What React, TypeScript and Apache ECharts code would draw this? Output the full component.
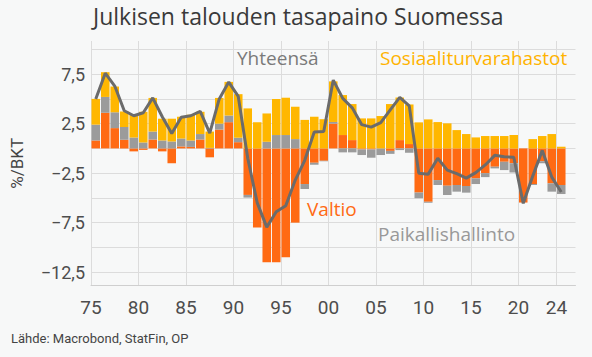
import React, { useEffect, useRef } from "react";
import * as echarts from "echarts";

const years: string[] = [
  "1975","1976","1977","1978","1979","1980","1981","1982","1983","1984",
  "1985","1986","1987","1988","1989","1990","1991","1992","1993","1994",
  "1995","1996","1997","1998","1999","2000","2001","2002","2003","2004",
  "2005","2006","2007","2008","2009","2010","2011","2012","2013","2014",
  "2015","2016","2017","2018","2019","2020","2021","2022","2023","2024","2025",
];

// Valtio (central government), % of GDP
const valtio = [
  0.8, 3.6, 2.05, 0.87, -0.3, -0.15, 0.9, -0.3, -1.5, 0.2,
  0.15, 0.9, -0.9, 1.9, 2.65, 0.63, -4.7, -7.98, -11.5, -11.5,
  -11.0, -7.5, -3.6, -1.45, -1.25, 2.5, 1.35, 0.84, -0.1, -0.1,
  0.0, -0.25, 0.84, 0.44, -4.46, -5.39, -3.2, -3.77, -3.7, -3.8,
  -3.03, -2.5, -1.85, -1.35, -1.5, -5.47, -3.6, -1.3, -3.53, -3.7,
];

// Paikallishallinto (local government)
const paikallis = [
  1.6, 1.6, 1.6, 1.3, 1.1, 0.6, 0.8, 0.8, 0.7, 0.8,
  0.65, 0.55, 0.05, 0.6, 0.67, 0.45, -0.27, 0.0, 0.67, 1.35,
  1.35, 0.94, -0.5, -0.2, -0.05, 0.17, -0.4, -0.4, -0.57, -0.84,
  -0.67, -0.3, -0.17, -0.44, -0.57, -0.1, -0.5, -0.94, -0.67, -0.67,
  -0.57, -0.4, -0.17, -0.84, -0.94, 0.0, -0.1, -0.2, -0.84, -0.91,
];

// Sosiaaliturvarahastot (social security funds)
const sosiaali = [
  2.6, 2.5, 2.6, 1.55, 2.3, 3.1, 3.4, 2.2, 2.3, 2.2,
  2.6, 2.25, 1.65, 2.6, 3.4, 4.4, 4.04, 2.63, 2.86, 3.64,
  3.77, 3.27, 2.88, 3.2, 2.95, 4.1, 4.04, 3.64, 3.03, 3.03,
  3.27, 4.48, 4.3, 4.0, 2.63, 2.93, 2.66, 2.53, 1.85, 1.45,
  1.11, 1.25, 1.25, 1.25, 1.35, 0.0, 0.94, 1.25, 1.45, 0.17,
];

// Yhteensä (general government total)
const yhteensa = [
  5.0, 7.6, 6.3, 3.8, 3.3, 3.6, 5.1, 3.2, 1.5, 3.15,
  3.3, 3.75, 1.55, 5.0, 6.7, 5.25, -1.0, -5.5, -7.95, -6.4,
  -5.8, -3.2, -1.2, 1.65, 1.7, 6.9, 5.05, 4.1, 2.4, 2.15,
  2.6, 3.9, 5.15, 4.3, -2.5, -2.6, -1.0, -2.2, -2.55, -3.0,
  -2.45, -1.67, -0.7, -0.85, -0.9, -5.55, -2.8, -0.2, -2.9, -4.4,
];

const xTickYears = [1975, 1980, 1985, 1990, 1995, 2000, 2005, 2010, 2015, 2020, 2024];
const yGridValues = [-12.5, -10, -7.5, -5, -2.5, 0, 2.5, 5, 7.5, 10];
const yLabelValues = [-12.5, -7.5, -2.5, 2.5, 7.5];

const FONT = "Roboto";
const TFONT = "Open Sans";

export default function App() {
  const ref = useRef<HTMLDivElement>(null);
  useEffect(() => {
    if (!ref.current) return;
    const chart = echarts.init(ref.current, null, { renderer: "svg" });
    chart.setOption({
      animation: false,
      backgroundColor: "#f7f8f8",
      textStyle: { fontFamily: FONT },
      grid: { left: 87.5, right: 16.5, top: 41, bottom: 71.5, containLabel: false },
      xAxis: [
        {
          type: "category",
          data: years,
          boundaryGap: true,
          show: false,
          position: "top",
        },
        {
          type: "value",
          min: 1975,
          max: 2026,
          position: "bottom",
          axisLine: { show: true, onZero: false, lineStyle: { color: "#cfcfcf", width: 1 } },
          axisTick: { show: false, customValues: xTickYears },
          axisLabel: {
            customValues: xTickYears,
            formatter: (v: number) => String(v).slice(2),
            fontSize: 19,
            color: "#4d4d4d",
            margin: 12,
            fontFamily: FONT,
          },
          splitLine: { show: true, lineStyle: { color: "#dcdcdc", width: 1 } },
        },
      ],
      yAxis: {
        type: "value",
        min: -13.85,
        max: 10.85,
        axisLine: { show: false },
        axisTick: { show: false, customValues: yGridValues },
        axisLabel: {
          customValues: yLabelValues,
          formatter: (v: number) => String(v).replace(".", ",").replace("-", "\u2212"),
          fontSize: 18,
          color: "#4d4d4d",
          margin: 6,
          fontFamily: FONT,
        },
        splitLine: { show: true, lineStyle: { color: "#dcdcdc", width: 1 } },
        name: "%/BKT",
        nameLocation: "middle",
        nameRotate: 90,
        nameGap: 66,
        nameTextStyle: { fontSize: 17, color: "#444444", fontFamily: FONT },
      },
      series: [
        {
          name: "Valtio",
          type: "bar",
          stack: "total",
          xAxisIndex: 0,
          barWidth: "90%",
          itemStyle: { color: "#ff6a13" },
          data: valtio,
        },
        {
          name: "Paikallishallinto",
          type: "bar",
          stack: "total",
          xAxisIndex: 0,
          barWidth: "90%",
          itemStyle: { color: "#9b9b9b" },
          data: paikallis,
        },
        {
          name: "Sosiaaliturvarahastot",
          type: "bar",
          stack: "total",
          xAxisIndex: 0,
          barWidth: "90%",
          itemStyle: { color: "#ffb700" },
          data: sosiaali,
        },
        {
          name: "Yhteensä",
          type: "line",
          xAxisIndex: 0,
          symbol: "none",
          z: 5,
          lineStyle: { color: "#6b6b6b", width: 3 },
          data: yhteensa,
        },
      ],
      graphic: [
        {
          type: "text",
          left: 93,
          top: 4,
          style: { text: "Julkisen talouden tasapaino Suomessa", fontSize: 23, fill: "#3a3a3a", fontFamily: TFONT },
        },
        {
          type: "text",
          left: 237,
          top: 48,
          z: 10,
          style: { text: "Yhteensä", fontSize: 19, fill: "#7a7a7a", fontFamily: TFONT },
        },
        {
          type: "text",
          left: 380,
          top: 48,
          z: 10,
          style: { text: "Sosiaaliturvarahastot", fontSize: 19, fill: "#ffb300", fontFamily: TFONT },
        },
        {
          type: "text",
          left: 307,
          top: 199,
          z: 10,
          style: { text: "Valtio", fontSize: 19, fill: "#ff6a13", fontFamily: TFONT },
        },
        {
          type: "text",
          left: 378,
          top: 224,
          z: 10,
          style: { text: "Paikallishallinto", fontSize: 19, fill: "#999999", fontFamily: TFONT },
        },
        {
          type: "text",
          left: 11,
          top: 332,
          style: { text: "Lähde: Macrobond, StatFin, OP", fontSize: 13, fill: "#444444", fontFamily: FONT },
        },
      ],
    });
    return () => chart.dispose();
  }, []);
  return (
    <div
      ref={ref}
      style={{ position: "fixed", left: 0, top: 0, width: 592, height: 357, background: "#f7f8f8" }}
    />
  );
}
